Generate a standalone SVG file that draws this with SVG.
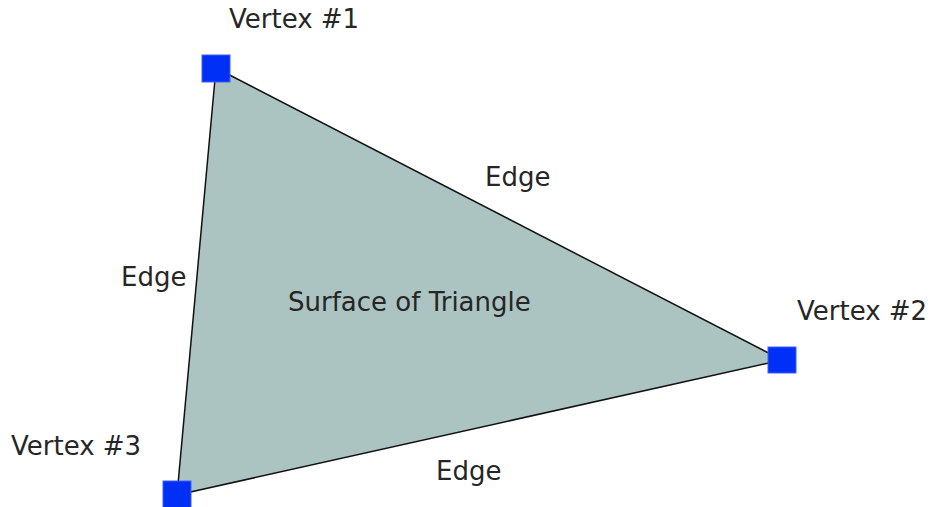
<svg xmlns="http://www.w3.org/2000/svg" width="930" height="507" viewBox="0 0 930 507">
<style>
text{font-family:"DejaVu Sans",sans-serif;font-size:26px;fill:#262626}
.v{fill:#0030f5;stroke:#4060ff;stroke-width:1}
.e{fill:none;stroke:#111;stroke-width:1.5}
</style>
<rect width="930" height="507" fill="#fff"/>
<g id="surface">
<polygon points="216,68 782,360 177,495" fill="#abc3c1" stroke="none"/>
<text x="288" y="311">Surface of Triangle</text>
</g>
<g id="edges">
<line class="e" x1="216" y1="68" x2="782" y2="360"/>
<line class="e" x1="782" y1="360" x2="177" y2="495"/>
<line class="e" x1="177" y1="495" x2="216" y2="68"/>
<text x="485" y="186">Edge</text>
<text x="121" y="286">Edge</text>
<text x="436" y="480">Edge</text>
</g>
<g id="vertex1"><rect class="v" x="202" y="55" width="28" height="27"/><text x="229" y="28">Vertex #1</text></g>
<g id="vertex2"><rect class="v" x="768" y="347" width="28" height="26"/><text x="797" y="320">Vertex #2</text></g>
<g id="vertex3"><rect class="v" x="163" y="481" width="28" height="28"/><text x="11" y="455">Vertex #3</text></g>
</svg>
